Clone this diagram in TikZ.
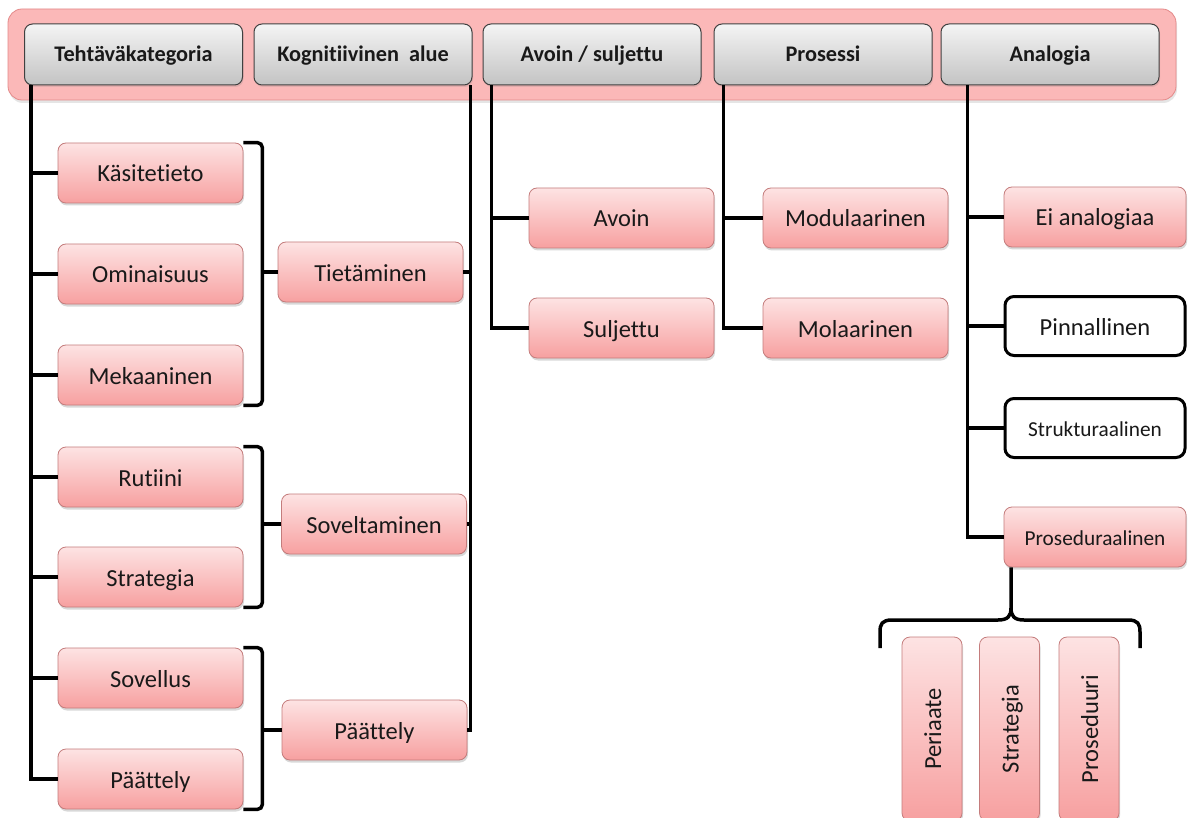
\documentclass[tikz,border=0pt]{standalone}
\usepackage{fontspec}
\setmainfont[Ligatures={NoCommon}]{Carlito}
\usetikzlibrary{shadows,calc}
\definecolor{pinkT}{HTML}{FDE3E3}
\definecolor{pinkB}{HTML}{F7A0A0}
\definecolor{pinkD}{HTML}{C47C7C}
\definecolor{bandF}{HTML}{FBB8B8}
\definecolor{bandD}{HTML}{E48A8A}
\definecolor{grayT}{HTML}{F4F4F4}
\definecolor{grayB}{HTML}{C3C3C3}
\begin{document}
\begin{tikzpicture}[x=1pt,y=-1pt,
  pinkbox/.style={draw=pinkD, line width=0.8pt, rounded corners=8pt, top color=pinkT, bottom color=pinkB,
    minimum width=185pt, minimum height=60pt, inner sep=0pt, font=\fontsize{24.5}{28}\selectfont, text=black!90,
    text height=18pt, text depth=0pt,
    drop shadow={opacity=0.3, shadow xshift=1pt, shadow yshift=-2.5pt}},
  vbox/.style={pinkbox, rotate=90, minimum width=184pt, minimum height=60pt},
  whitebox/.style={draw=black, line width=3pt, rounded corners=9pt, fill=white, minimum width=180pt,
    minimum height=59pt, inner sep=0pt, font=\fontsize{24.5}{28}\selectfont, text=black!90,
    text height=18pt, text depth=0pt},
  smalltext/.style={font=\fontsize{21.3}{24}\selectfont, text height=16pt, text depth=0pt},
  header/.style={draw=black!75, line width=1pt, rounded corners=8pt, top color=grayT, bottom color=grayB,
    minimum width=218pt, minimum height=61pt, inner sep=0pt, font=\bfseries\fontsize{22.3}{26}\selectfont, text=black!90,
    text height=15pt, text depth=0pt,
    drop shadow={opacity=0.2, shadow xshift=1pt, shadow yshift=-2pt}},
  band/.style={draw=bandD, line width=0.8pt, rounded corners=14pt, fill=bandF,
    minimum width=1168pt, minimum height=91pt, inner sep=0pt,
    drop shadow={opacity=0.2, shadow xshift=1pt, shadow yshift=-3pt}},
  conn/.style={line width=3.5pt, black}
]
\clip (0,0) rectangle (1188,818);
\fill[white] (0,0) rectangle (1188,818);

% header band and headers
\node[band] (bnd) at (592,54.5) {};
\node[header] (teht) at (133.5,54.5) {Tehtäväkategoria};
\node[header] (kog) at (363,54.5) {Kognitiivinen\ \ alue};
\node[header] (avs) at (592,54.5) {Avoin / suljettu};
\node[header] (pros) at (823,54.5) {Prosessi};
\node[header] (anal) at (1050,54.5) {Analogia};

% left column
\node[pinkbox] (l1) at (150.5,173) {Käsitetieto};
\node[pinkbox] (l2) at (150.5,274) {Ominaisuus};
\node[pinkbox] (l3) at (150.5,375) {Mekaaninen};
\node[pinkbox] (l4) at (150.5,477) {Rutiini};
\node[pinkbox] (l5) at (150.5,577) {Strategia};
\node[pinkbox] (l6) at (150.5,678) {Sovellus};
\node[pinkbox] (l7) at (150.5,779) {Päättely};

% middle column
\node[pinkbox] (tiet) at (370.5,272) {Tietäminen};
\node[pinkbox] (sovt) at (374,524) {Soveltaminen};
\node[pinkbox] (paat) at (374.5,730) {Päättely};

% avoin / prosessi
\node[pinkbox] (avoin) at (621.5,218) {Avoin};
\node[pinkbox] (sulj) at (621.5,328) {Suljettu};
\node[pinkbox] (modu) at (855.5,218) {Modulaarinen};
\node[pinkbox] (mola) at (855.5,328) {Molaarinen};

% analogia
\node[pinkbox, minimum width=182pt] (ei) at (1095,217) {Ei analogiaa};
\node[whitebox] (pinn) at (1095,326) {Pinnallinen};
\node[whitebox, smalltext] (stru) at (1095,428) {Strukturaalinen};
\node[pinkbox, minimum width=182pt, smalltext] (prosed) at (1095,537) {Proseduraalinen};

% vertical boxes
\node[vbox] (peri) at (932,729) {Periaate};
\node[vbox] (stra) at (1009.5,729) {Strategia};
\node[vbox] (prdu) at (1089,729) {Proseduuri};

% connector coordinates
\coordinate (tx) at ([xshift=7pt]teht.south west);
\coordinate (kx) at ([xshift=-2pt]kog.south east);
\coordinate (ax) at ([xshift=9pt]avs.south west);
\coordinate (px) at ([xshift=10pt]pros.south west);
\coordinate (nx) at ([xshift=27pt]anal.south west);
\coordinate (b1) at ([xshift=19pt]l1.north east);
\coordinate (b2) at ([xshift=19pt]l4.north east);
\coordinate (b3) at ([xshift=19pt]l6.north east);
\coordinate (bx) at ([xshift=-84pt]prosed.south);

% Tehtäväkategoria tree
\draw[conn] (tx) |- (l7.west);
\foreach \i in {1,...,6} { \draw[conn] (l\i.west -| tx) -- (l\i.west); }

% Kognitiivinen alue tree
\draw[conn] (kx) |- (paat.east);
\draw[conn] (tiet.east) -- (tiet.east -| kx);
\draw[conn] (sovt.east) -- (sovt.east -| kx);

% brackets
\draw[conn, rounded corners=5pt] (l1.north east) -- (b1) -- (b1 |- l3.south east) -- (l3.south east);
\draw[conn] (tiet.west) -- (tiet.west -| b1);
\draw[conn, rounded corners=5pt] (l4.north east) -- (b2) -- (b2 |- l5.south east) -- (l5.south east);
\draw[conn] (sovt.west) -- (sovt.west -| b2);
\draw[conn, rounded corners=5pt] (l6.north east) -- (b3) -- (b3 |- l7.south east) -- (l7.south east);
\draw[conn] (paat.west) -- (paat.west -| b3);

% Avoin / suljettu
\draw[conn] (ax) |- (sulj.west);
\draw[conn] (avoin.west -| ax) -- (avoin.west);
% Prosessi
\draw[conn] (px) |- (mola.west);
\draw[conn] (modu.west -| px) -- (modu.west);
% Analogia
\draw[conn] (nx) |- (prosed.west);
\draw[conn] (ei.west -| nx) -- (ei.west);
\draw[conn] (pinn.west -| nx) -- (pinn.west);
\draw[conn] (stru.west -| nx) -- (stru.west);

% brace under Proseduraalinen
\draw[conn] (bx) -- (1011,608) .. controls (1011,616) and (1008,620) .. (998,620) -- (892,620)
  .. controls (882,620) and (880,624) .. (880,632) -- (880,648);
\draw[conn] (1011,608) .. controls (1011,616) and (1014,620) .. (1024,620) -- (1128,620)
  .. controls (1138,620) and (1140,624) .. (1140,632) -- (1140,648);
\end{tikzpicture}
\end{document}
